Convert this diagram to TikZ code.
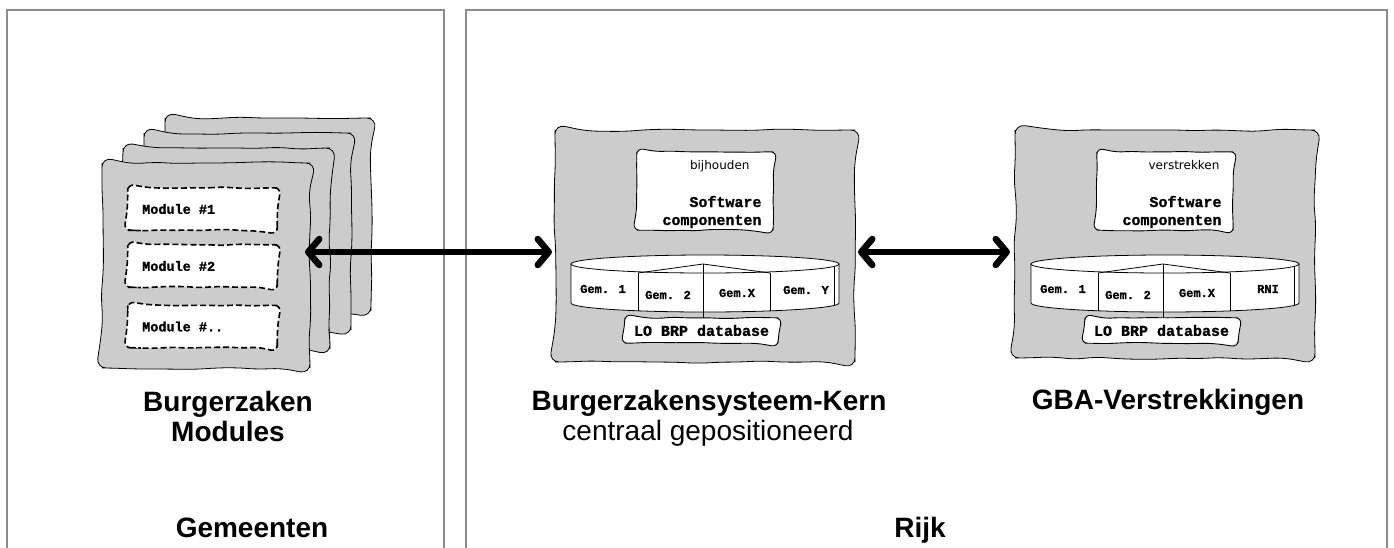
\documentclass[tikz,border=0pt]{standalone}
\usepackage{fontspec}
\setmainfont{Liberation Sans}
\newfontfamily\monof[BoldFeatures={FakeBold=1.3}]{Liberation Mono}
\newfontfamily\dejav{DejaVu Sans}
\newcommand\modfont{\monof\bfseries\fontsize{13.5}{15}\selectfont}
\newcommand\wob[2]{\draw[#2] (#1.north) -- (#1.north east) -- (#1.south east) -- (#1.south west) -- (#1.north west) -- cycle;}
\usetikzlibrary{arrows.meta,decorations.pathmorphing}
\definecolor{panelgray}{HTML}{8C8C8C}
\definecolor{blobgray}{HTML}{CCCCCC}
\tikzset{
  frame/.style={inner sep=0pt, outer sep=0pt, anchor=north west},
  blobline/.style={draw=black, line width=0.8pt, fill=blobgray, decorate, decoration={random steps, segment length=21pt, amplitude=1.5pt}, rounded corners=10pt},
  whiteline/.style={draw=black, line width=0.9pt, fill=white, decorate, decoration={random steps, segment length=14pt, amplitude=0.8pt}, rounded corners=6.5pt},
  dashline/.style={whiteline, dash pattern=on 6pt off 3pt, line width=1.6pt},
  modbox/.style={inner sep=0pt, minimum width=149pt, minimum height=42pt},
  modlabel/.style={anchor=west, inner sep=0pt, font=\modfont},
  panel/.style={draw=panelgray, line width=2.5pt},
  biglabel/.style={font=\fontsize{28}{30}\selectfont\bfseries, anchor=base},
  sublabel/.style={font=\fontsize{28}{30}\selectfont, anchor=base},
  swtext/.style={font=\monof\bfseries\fontsize{15}{17}\selectfont, anchor=base east},
  dbtext/.style={font=\monof\bfseries\fontsize{15}{17}\selectfont},
  gemtext/.style={font=\monof\bfseries\fontsize{12}{14}\selectfont},
  smalltext/.style={font=\dejav\fontsize{12}{14}\selectfont, anchor=base east},
  cylline/.style={draw=black, line width=0.8pt},
  bigarrow/.style={line width=6.5pt, {Straight Barb[length=11pt,width=26pt,round]}-{Straight Barb[length=11pt,width=26pt,round]}}
}
\begin{document}
\begin{tikzpicture}[x=1pt,y=-1pt]
\pgfmathsetseed{11}
\useasboundingbox (0,0) rectangle (1394,547);
% panels
\draw[panel] (7,560) -- (7,10) -- (444,10) -- (444,560);
\draw[panel] (466,560) -- (466,10) -- (1387,10) -- (1387,560);
% module stack
\node[frame, minimum width=206pt, minimum height=193pt] (stack4) at (165,118) {};
\wob{stack4}{blobline}
\node[frame, minimum width=207pt, minimum height=197pt] (stack3) at (144,133) {};
\wob{stack3}{blobline}
\node[frame, minimum width=207pt, minimum height=201pt] (stack2) at (123,148) {};
\wob{stack2}{blobline}
\node[frame, minimum width=208pt, minimum height=205pt] (front) at (102,163) {};
\wob{front}{blobline}
\node[modbox] (m1) at (202.5,209) {};
\wob{m1}{dashline}
\node[modlabel] (t1) at (142,209) {Module \#1};
\node[modbox] (m2) at (202.5,266) {};
\wob{m2}{dashline}
\node[modlabel] (t2) at (142,266) {Module \#2};
\node[modbox] (m3) at (202.5,326.5) {};
\wob{m3}{dashline}
\node[modlabel] (t3) at (142,326.5) {Module \#..};
% central box
\node[frame, minimum width=300pt, minimum height=232pt] (core) at (555,130) {};
\wob{core}{blobline}
\node[inner sep=0pt, minimum width=136pt, minimum height=78pt] (swcore) at (705,191) {};
\wob{swcore}{whiteline}
\node[smalltext] (bij) at (753,169) {bijhouden};
\node[swtext] (sw1) at (765,207) {Software};
\node[swtext] (sw2) at (765,225) {componenten};
% cylinder central
\path[cylline, fill=white] (571,264) -- (571,303) arc[start angle=180, end angle=360, x radius=134pt, y radius=9pt] -- (839,264) -- cycle;
\draw[cylline, fill=white] (705,264) ellipse[x radius=134pt, y radius=9pt];
\draw[cylline] (638,273) -- (703,264) -- (770,273);
\draw[cylline] (638,273) -- (638,311);
\draw[cylline] (703,264) -- (703,318);
\draw[cylline] (770,273) -- (770,311);
\draw[cylline] (834,267) -- (834,305);
\node[gemtext] (c1) at (603,289) {Gem. 1};
\node[gemtext] (c2) at (668,295) {Gem. 2};
\node[gemtext] (c3) at (737,293) {Gem.X};
\node[gemtext] (c4) at (806,290) {Gem. Y};
\node[inner sep=0pt, minimum width=153pt, minimum height=25pt] (dbcore) at (701.5,330.5) {};
\wob{dbcore}{whiteline}
\node[dbtext] (dbcoret) at (dbcore.center) {LO BRP database};
% right box
\node[frame, minimum width=300pt, minimum height=228pt] (gba) at (1015,130) {};
\wob{gba}{blobline}
\node[inner sep=0pt, minimum width=136pt, minimum height=78pt] (swgba) at (1165,191) {};
\wob{swgba}{whiteline}
\node[smalltext] (ver) at (1223,169) {verstrekken};
\node[swtext] (sw3) at (1225,207) {Software};
\node[swtext] (sw4) at (1225,225) {componenten};
\path[cylline, fill=white] (1031,264) -- (1031,303) arc[start angle=180, end angle=360, x radius=134pt, y radius=9pt] -- (1299,264) -- cycle;
\draw[cylline, fill=white] (1165,264) ellipse[x radius=134pt, y radius=9pt];
\draw[cylline] (1098,273) -- (1163,264) -- (1230,273);
\draw[cylline] (1098,273) -- (1098,311);
\draw[cylline] (1163,264) -- (1163,318);
\draw[cylline] (1230,273) -- (1230,311);
\draw[cylline] (1294,267) -- (1294,305);
\node[gemtext] (g1) at (1063,289) {Gem. 1};
\node[gemtext] (g2) at (1128,295) {Gem. 2};
\node[gemtext] (g3) at (1197,293) {Gem.X};
\node[gemtext] (g4) at (1268,289) {RNI};
\node[inner sep=0pt, minimum width=153pt, minimum height=25pt] (dbgba) at (1161.5,330.5) {};
\wob{dbgba}{whiteline}
\node[dbtext] (dbgbat) at (dbgba.center) {LO BRP database};
% arrows
\draw[bigarrow] ([xshift=-5pt,yshift=13.5pt]front.east) -- ([xshift=-3pt,yshift=-6pt]core.west);
\draw[bigarrow] ([xshift=3pt,yshift=-6pt]core.east) -- ([xshift=-5pt,yshift=-8pt]gba.west);
% labels
\node[biglabel] (l1) at (228,411) {Burgerzaken};
\node[biglabel] (l2) at (228,441) {Modules};
\node[biglabel] (l3) at (709,410) {Burgerzakensysteem-Kern};
\node[sublabel] (l4) at (708,440) {centraal gepositioneerd};
\node[biglabel] (l5) at (1168,409) {GBA-Verstrekkingen};
\node[biglabel] (l6) at (252,537) {Gemeenten};
\node[biglabel] (l7) at (920,537) {Rijk};
\end{tikzpicture}
\end{document}
